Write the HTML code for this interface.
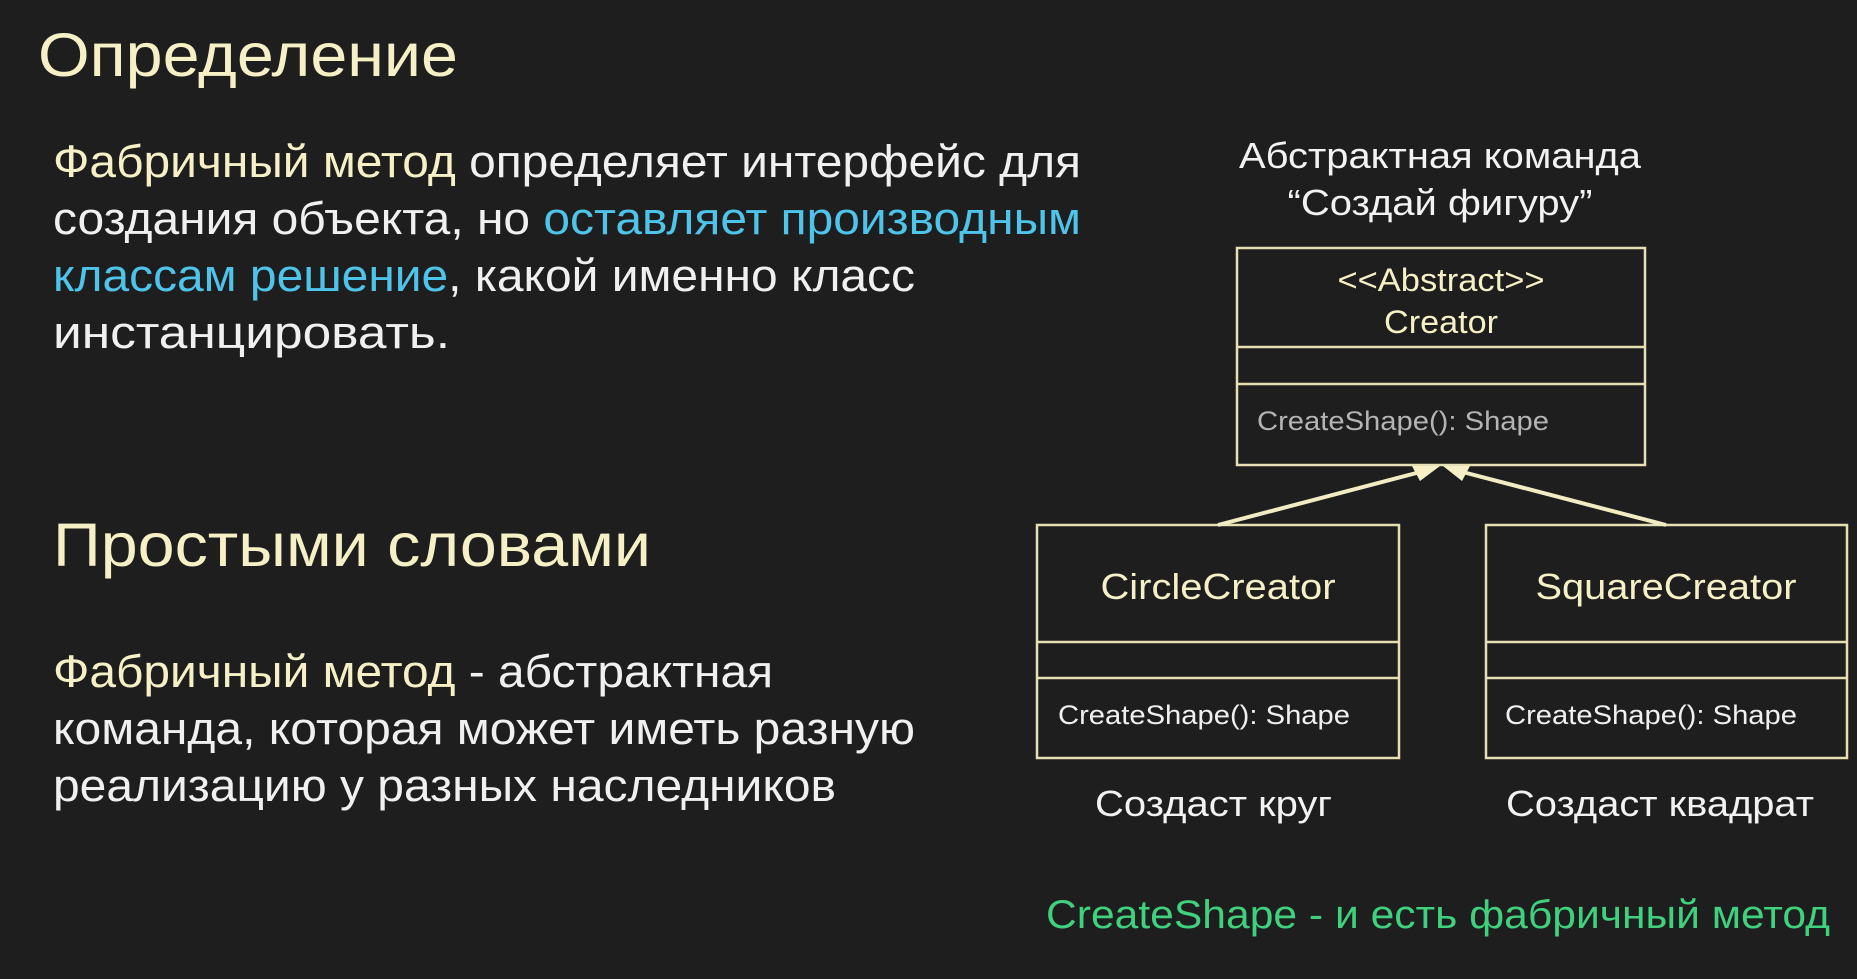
<!DOCTYPE html>
<html><head><meta charset="utf-8">
<style>
html,body{margin:0;padding:0;background:#1e1e1e;}
svg{display:block;}
text{font-family:"Liberation Sans",Arial,sans-serif;}
</style></head>
<body>
<svg width="1857" height="979" viewBox="0 0 1857 979" xmlns="http://www.w3.org/2000/svg">
<rect width="1857" height="979" fill="#1e1e1e"/>
<text x="38" y="76" font-size="61" fill="#f6f0c6" textLength="420" lengthAdjust="spacingAndGlyphs">Определение</text>
<g font-size="45" fill="#f0f0f0">
<text x="53" y="177" textLength="1028" lengthAdjust="spacingAndGlyphs"><tspan fill="#f6f0c6">Фабричный метод</tspan> определяет интерфейс для</text>
<text x="53" y="234" textLength="1028" lengthAdjust="spacingAndGlyphs">создания объекта, но <tspan fill="#4ec4ea">оставляет производным</tspan></text>
<text x="53" y="291" textLength="862" lengthAdjust="spacingAndGlyphs"><tspan fill="#4ec4ea">классам решение</tspan>, какой именно класс</text>
<text x="53" y="348" textLength="397" lengthAdjust="spacingAndGlyphs">инстанцировать.</text>
</g>
<text x="53" y="566" font-size="61" fill="#f6f0c6" textLength="598" lengthAdjust="spacingAndGlyphs">Простыми словами</text>
<g font-size="45" fill="#f0f0f0">
<text x="53" y="687" textLength="720" lengthAdjust="spacingAndGlyphs"><tspan fill="#f6f0c6">Фабричный метод</tspan> - абстрактная</text>
<text x="53" y="744" textLength="862" lengthAdjust="spacingAndGlyphs">команда, которая может иметь разную</text>
<text x="53" y="801" textLength="783" lengthAdjust="spacingAndGlyphs">реализацию у разных наследников</text>
</g>
<g font-size="36" fill="#f2f2f2" text-anchor="middle">
<text x="1440" y="168" textLength="402" lengthAdjust="spacingAndGlyphs">Абстрактная команда</text>
<text x="1440" y="215" textLength="305" lengthAdjust="spacingAndGlyphs">“Создай фигуру”</text>
</g>
<g fill="none" stroke="#e6e0b4" stroke-width="2.5">
<rect x="1237" y="248" width="408" height="217"/>
<line x1="1237" y1="347" x2="1645" y2="347"/>
<line x1="1237" y1="384" x2="1645" y2="384"/>
<rect x="1037" y="525" width="362" height="233"/>
<line x1="1037" y1="642" x2="1399" y2="642"/>
<line x1="1037" y1="678" x2="1399" y2="678"/>
<rect x="1486" y="525" width="361" height="233"/>
<line x1="1486" y1="642" x2="1847" y2="642"/>
<line x1="1486" y1="678" x2="1847" y2="678"/>
</g>
<g stroke="#f2ecc4" stroke-width="4" fill="none">
<line x1="1218" y1="525" x2="1428" y2="470"/>
<line x1="1666" y1="525" x2="1455" y2="470"/>
</g>
<g fill="#f6f0c6">
<polygon points="1440,466 1412,466 1420,481"/>
<polygon points="1443,466 1470,466 1462,481"/>
</g>
<g font-size="32" fill="#f6f0c6" text-anchor="middle">
<text x="1441" y="291" textLength="207" lengthAdjust="spacingAndGlyphs">&lt;&lt;Abstract&gt;&gt;</text>
<text x="1441" y="333" textLength="114" lengthAdjust="spacingAndGlyphs">Creator</text>
</g>
<text x="1257" y="430" font-size="27" fill="#b4b4b4" textLength="292" lengthAdjust="spacingAndGlyphs">CreateShape(): Shape</text>
<g font-size="36" fill="#f6f0c6" text-anchor="middle">
<text x="1218" y="599" textLength="235" lengthAdjust="spacingAndGlyphs">CircleCreator</text>
<text x="1666" y="599" textLength="261" lengthAdjust="spacingAndGlyphs">SquareCreator</text>
</g>
<g font-size="27" fill="#f0f0f0">
<text x="1058" y="724" textLength="292" lengthAdjust="spacingAndGlyphs">CreateShape(): Shape</text>
<text x="1505" y="724" textLength="292" lengthAdjust="spacingAndGlyphs">CreateShape(): Shape</text>
</g>
<g font-size="36" fill="#f2f2f2">
<text x="1095" y="816" textLength="237" lengthAdjust="spacingAndGlyphs">Создаст круг</text>
<text x="1506" y="816" textLength="308" lengthAdjust="spacingAndGlyphs">Создаст квадрат</text>
</g>
<text x="1046" y="928" font-size="40" fill="#3fd17d" textLength="784" lengthAdjust="spacingAndGlyphs">CreateShape - и есть фабричный метод</text>
</svg>
</body></html>
